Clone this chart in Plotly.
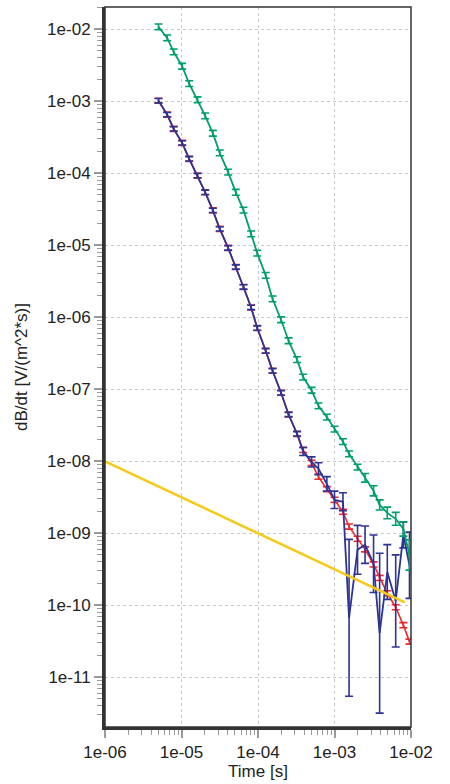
import numpy as np
import plotly.graph_objects as go

# ---- data ----
time_s = [5.0e-6, 6.5e-6, 7.9e-6, 1.02e-5, 1.26e-5, 1.62e-5, 2.04e-5, 2.57e-5, 3.16e-5,
          4.07e-5, 5.13e-5, 6.46e-5, 8.13e-5, 9.77e-5, 1.26e-4, 1.55e-4, 2.0e-4, 2.51e-4,
          3.24e-4, 3.89e-4, 5.01e-4, 6.17e-4, 7.94e-4, 1.0e-3, 1.29e-3, 1.55e-3, 2.0e-3,
          2.51e-3, 3.24e-3, 3.89e-3, 4.9e-3, 6.31e-3, 7.94e-3, 9.55e-3]

green_db = [1.08e-2, 7.6e-3, 4.86e-3, 3.07e-3, 1.76e-3, 1.05e-3, 6.28e-4, 3.6e-4, 1.92e-4,
            1.04e-4, 5.45e-5, 3.08e-5, 1.44e-5, 7.8e-6, 3.82e-6, 1.80e-6, 9.26e-7, 4.73e-7,
            2.58e-7, 1.48e-7, 9.7e-8, 5.9e-8, 4.11e-8, 2.8e-8, 1.88e-8, 1.27e-8, 8.3e-9,
            5.9e-9, 3.89e-9, 2.48e-9, 1.92e-9, 1.59e-9, 1.15e-9, 5.0e-10]
# error half-width in decades
green_err = [0.04] * 27 + [0.06, 0.07, 0.07, 0.08, 0.09, 0.10, 0.21]

red_db = [1.02e-3, 6.54e-4, 4.14e-4, 2.65e-4, 1.59e-4, 9.3e-5, 5.45e-5, 3.06e-5, 1.69e-5,
          9.2e-6, 5.0e-6, 2.64e-6, 1.37e-6, 7.1e-7, 3.43e-7, 1.81e-7, 8.95e-8, 4.47e-8,
          2.41e-8, 1.44e-8, 9.5e-9, 6.1e-9, 4.11e-9, 2.92e-9, 1.99e-9, 1.24e-9, 8.4e-10,
          5.98e-10, 3.7e-10, 2.4e-10, 1.47e-10, 9.4e-11, 5.3e-11, 3.13e-11]
red_err = [0.035] * 34

blue_db = [1.02e-3, 6.54e-4, 4.14e-4, 2.65e-4, 1.59e-4, 9.3e-5, 5.45e-5, 3.06e-5, 1.69e-5,
           9.2e-6, 5.0e-6, 2.64e-6, 1.37e-6, 7.1e-7, 3.43e-7, 1.81e-7, 8.95e-8, 4.47e-8,
           2.41e-8, 1.37e-8, 9.8e-9, 7.9e-9, 4.87e-9, 2.92e-9, 2.74e-9, 6.7e-11, 5.9e-10,
           6.95e-10, 3.78e-10, 4.1e-11, 2.9e-10, 1.15e-10, 9.5e-10, 3.6e-10]
blue_err = [0.03] * 19 + [0.055, 0.07, 0.083, 0.10, 0.12, 0.125, 1.09, 0.34, 0.26, 0.40,
                          1.11, 0.38, 0.64, 0.18, 0.46]

noise_t = [1e-6, 8.3e-3]
noise_db = [1e-8, 1.1e-10]

x_tickvals = [1e-6, 1e-5, 1e-4, 1e-3, 1e-2]
x_ticktext = ["1e-06", "1e-05", "1e-04", "1e-03", "1e-02"]
y_tickvals = [1e-11, 1e-10, 1e-9, 1e-8, 1e-7, 1e-6, 1e-5, 1e-4, 1e-3, 1e-2]
y_ticktext = ["1e-11", "1e-10", "1e-09", "1e-08", "1e-07", "1e-06", "1e-05", "1e-04",
              "1e-03", "1e-02"]

GREEN = "#00A06A"
RED = "#EE2A2E"
BLUE = "#2E3494"
YELLOW = "#F7C814"


def err_arrays(vals, errs):
    v = np.array(vals)
    e = np.array(errs)
    return v * (10 ** e) - v, v - v * (10 ** (-e))


fig = go.Figure()


def add_series(vals, errs, color, lw):
    up, dn = err_arrays(vals, errs)
    fig.add_trace(go.Scatter(
        x=time_s, y=vals, mode="lines",
        line=dict(color=color, width=lw),
        error_y=dict(type="data", symmetric=False, array=up, arrayminus=dn,
                     color=color, thickness=1.6, width=4),
        showlegend=False, hoverinfo="skip"))


add_series(red_db, red_err, RED, 1.6)
add_series(blue_db, blue_err, BLUE, 1.8)
add_series(green_db, green_err, GREEN, 1.8)

fig.add_trace(go.Scatter(x=noise_t, y=noise_db, mode="lines",
                         line=dict(color=YELLOW, width=2.5),
                         showlegend=False, hoverinfo="skip"))

minor_x = [m * 10.0 ** d for d in range(-6, -2) for m in range(2, 10)]
minor_y = [m * 10.0 ** d for d in range(-12, -1) for m in range(2, 10)]

font = dict(family="Liberation Sans, Arial, sans-serif", size=17, color="#222222")

fig.update_layout(
    width=450, height=784,
    margin=dict(l=105, r=39, t=7, b=57),
    paper_bgcolor="white", plot_bgcolor="white",
    font=font,
    xaxis=dict(
        type="log", range=[-6, -2],
        tickvals=x_tickvals, ticktext=x_ticktext,
        showline=True, linewidth=3, linecolor="#333333",
        ticks="outside", ticklen=8, tickwidth=1.5, tickcolor="#9a9a9a",
        showgrid=True, gridcolor="#c8c8c8", gridwidth=1.3, griddash="3px,3px",
        zeroline=False,
        minor=dict(tickvals=minor_x, ticks="outside", ticklen=5, tickwidth=1.2,
                   tickcolor="#9a9a9a", showgrid=False),
        title=dict(text="Time [s]", font=font, standoff=4),
    ),
    yaxis=dict(
        type="log", range=[-11.69, -1.69],
        tickvals=y_tickvals, ticktext=y_ticktext,
        showline=True, linewidth=3, linecolor="#333333",
        ticks="outside", ticklen=8, tickwidth=1.5, tickcolor="#9a9a9a",
        showgrid=True, gridcolor="#c8c8c8", gridwidth=1.3, griddash="3px,3px",
        zeroline=False,
        minor=dict(tickvals=minor_y, ticks="outside", ticklen=5, tickwidth=1.2,
                   tickcolor="#9a9a9a", showgrid=False),
        title=dict(text="dB/dt [V/(m^2*s)]", font=font, standoff=16),
    ),
    shapes=[dict(type="rect", xref="paper", yref="paper", x0=0, y0=0, x1=1, y1=1,
                 line=dict(color="#333333", width=1.5), layer="above")],
)

fig.write_html("out.html",
               config={"displayModeBar": False},
               post_script="document.body.style.margin='0';"
                           "document.body.style.padding='0';")
